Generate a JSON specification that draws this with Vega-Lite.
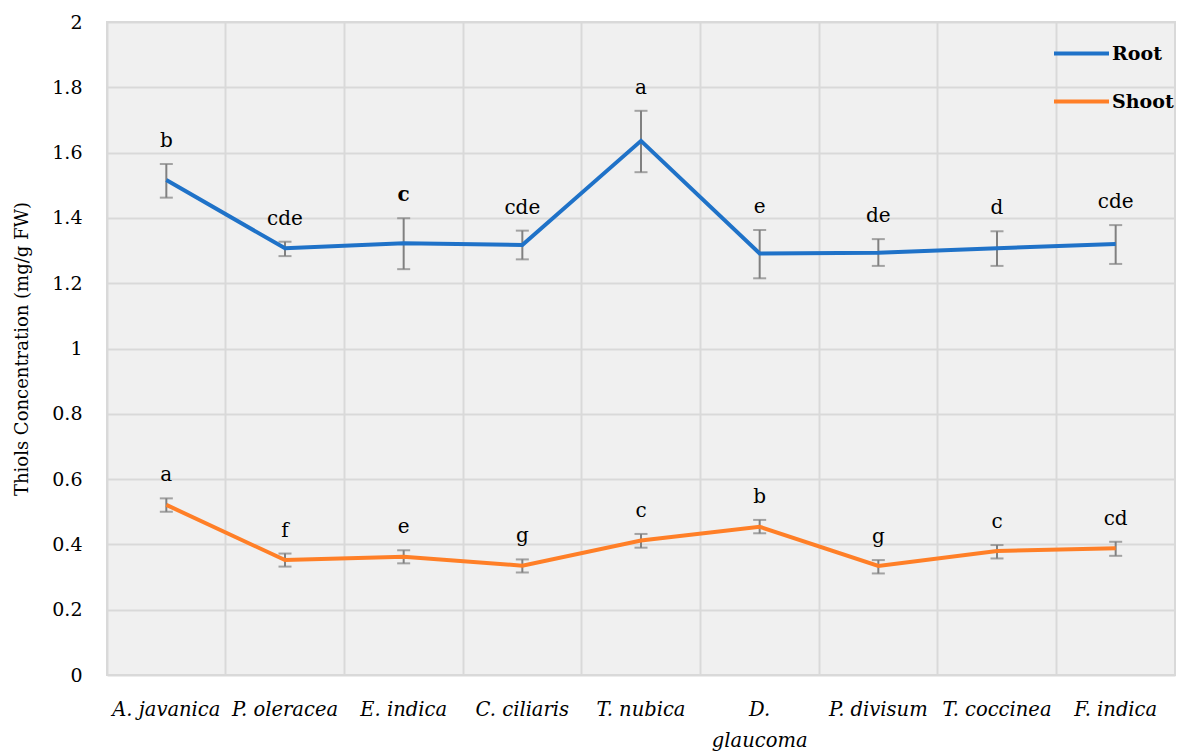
{
  "$schema": "https://vega.github.io/schema/vega-lite/v6.json",
  "width": 1068,
  "height": 653,
  "autosize": {"type": "none"},
  "padding": {"left": 107, "top": 22, "right": 7, "bottom": 78},
  "background": "white",
  "config": {
    "view": {"fill": "#f0f0f0", "stroke": "#d9d9d9", "strokeWidth": 2},
    "font": "DejaVu Serif"
  },
  "data": {
    "values": [
      {"species": "A. javanica", "part": "Root", "value": 1.516, "lo": 1.462, "hi": 1.565, "letter": "b", "bold": false},
      {"species": "P. oleracea", "part": "Root", "value": 1.307, "lo": 1.283, "hi": 1.327, "letter": "cde", "bold": false},
      {"species": "E. indica", "part": "Root", "value": 1.322, "lo": 1.243, "hi": 1.399, "letter": "c", "bold": true},
      {"species": "C. ciliaris", "part": "Root", "value": 1.317, "lo": 1.273, "hi": 1.361, "letter": "cde", "bold": false},
      {"species": "T. nubica", "part": "Root", "value": 1.636, "lo": 1.540, "hi": 1.728, "letter": "a", "bold": false},
      {"species": "D. glaucoma", "part": "Root", "value": 1.291, "lo": 1.215, "hi": 1.363, "letter": "e", "bold": false},
      {"species": "P. divisum", "part": "Root", "value": 1.293, "lo": 1.253, "hi": 1.335, "letter": "de", "bold": false},
      {"species": "T. coccinea", "part": "Root", "value": 1.307, "lo": 1.253, "hi": 1.359, "letter": "d", "bold": false},
      {"species": "F. indica", "part": "Root", "value": 1.320, "lo": 1.259, "hi": 1.378, "letter": "cde", "bold": false},
      {"species": "A. javanica", "part": "Shoot", "value": 0.521, "lo": 0.500, "hi": 0.541, "letter": "a", "bold": false},
      {"species": "P. oleracea", "part": "Shoot", "value": 0.352, "lo": 0.332, "hi": 0.372, "letter": "f", "bold": false},
      {"species": "E. indica", "part": "Shoot", "value": 0.362, "lo": 0.342, "hi": 0.382, "letter": "e", "bold": false},
      {"species": "C. ciliaris", "part": "Shoot", "value": 0.335, "lo": 0.314, "hi": 0.354, "letter": "g", "bold": false},
      {"species": "T. nubica", "part": "Shoot", "value": 0.412, "lo": 0.390, "hi": 0.432, "letter": "c", "bold": false},
      {"species": "D. glaucoma", "part": "Shoot", "value": 0.454, "lo": 0.434, "hi": 0.475, "letter": "b", "bold": false},
      {"species": "P. divisum", "part": "Shoot", "value": 0.334, "lo": 0.311, "hi": 0.352, "letter": "g", "bold": false},
      {"species": "T. coccinea", "part": "Shoot", "value": 0.380, "lo": 0.357, "hi": 0.398, "letter": "c", "bold": false},
      {"species": "F. indica", "part": "Shoot", "value": 0.388, "lo": 0.365, "hi": 0.408, "letter": "cd", "bold": false}
    ]
  },
  "encoding": {
    "x": {
      "field": "species",
      "type": "nominal",
      "sort": null,
      "scale": {"paddingInner": 0, "paddingOuter": 0},
      "axis": {
        "title": null,
        "labelAngle": 0,
        "bandPosition": 0,
        "grid": true,
        "gridColor": "#d9d9d9",
        "gridWidth": 2,
        "ticks": false,
        "domain": false,
        "labelFont": "DejaVu Serif",
        "labelFontStyle": "italic",
        "labelFontSize": 19.5,
        "labelColor": "#000000",
        "labelPadding": 25,
        "labelBaseline": "top",
        "labelLineHeight": 31,
        "labelExpr": "datum.value == 'D. glaucoma' ? ['D.', 'glaucoma'] : datum.value"
      }
    }
  },
  "layer": [
    {
      "mark": {"type": "rule", "color": "#808080", "strokeWidth": 2},
      "encoding": {
        "y": {
          "field": "lo",
          "type": "quantitative",
          "scale": {"domain": [0, 2], "nice": false, "zero": true},
          "axis": {
            "title": "Thiols Concentration (mg/g FW)",
            "values": [0, 0.2, 0.4, 0.6, 0.8, 1, 1.2, 1.4, 1.6, 1.8, 2],
            "format": "~g",
            "grid": true,
            "gridColor": "#d9d9d9",
            "gridWidth": 2,
            "ticks": false,
            "domain": false,
            "labelFont": "DejaVu Serif",
            "labelFontSize": 19,
            "labelColor": "#000000",
            "labelPadding": 25,
            "titleFont": "DejaVu Serif",
            "titleFontSize": 18,
            "titleFontWeight": "normal",
            "titleColor": "#000000",
            "titlePadding": 20
          }
        },
        "y2": {"field": "hi"},
        "detail": {"field": "part"}
      }
    },
    {
      "mark": {"type": "tick", "color": "#808080", "thickness": 2, "size": 13},
      "encoding": {"y": {"field": "lo", "type": "quantitative"}}
    },
    {
      "mark": {"type": "tick", "color": "#808080", "thickness": 2, "size": 13},
      "encoding": {"y": {"field": "hi", "type": "quantitative"}}
    },
    {
      "mark": {"type": "line", "strokeWidth": 4},
      "encoding": {
        "y": {"field": "value", "type": "quantitative"},
        "color": {
          "field": "part",
          "type": "nominal",
          "scale": {"domain": ["Root", "Shoot"], "range": ["#1f72c8", "#ff7f27"]},
          "legend": {
            "title": null,
            "orient": "none",
            "legendX": 945,
            "legendY": 2,
            "symbolType": "stroke",
            "symbolSize": 3025,
            "symbolStrokeWidth": 4,
            "labelFont": "DejaVu Serif",
            "labelFontWeight": "bold",
            "labelFontSize": 19,
            "labelColor": "#000000",
            "labelOffset": 1,
            "rowPadding": 8,
            "padding": 0
          }
        }
      }
    },
    {
      "transform": [{"filter": "!datum.bold"}],
      "mark": {"type": "text", "dy": -23, "baseline": "middle", "fontSize": 20, "font": "DejaVu Serif", "color": "#000000"},
      "encoding": {
        "y": {"field": "hi", "type": "quantitative"},
        "text": {"field": "letter"}
      }
    },
    {
      "transform": [{"filter": "datum.bold"}],
      "mark": {"type": "text", "dy": -23, "baseline": "middle", "fontSize": 20, "fontWeight": "bold", "font": "DejaVu Serif", "color": "#000000"},
      "encoding": {
        "y": {"field": "hi", "type": "quantitative"},
        "text": {"field": "letter"}
      }
    }
  ]
}
